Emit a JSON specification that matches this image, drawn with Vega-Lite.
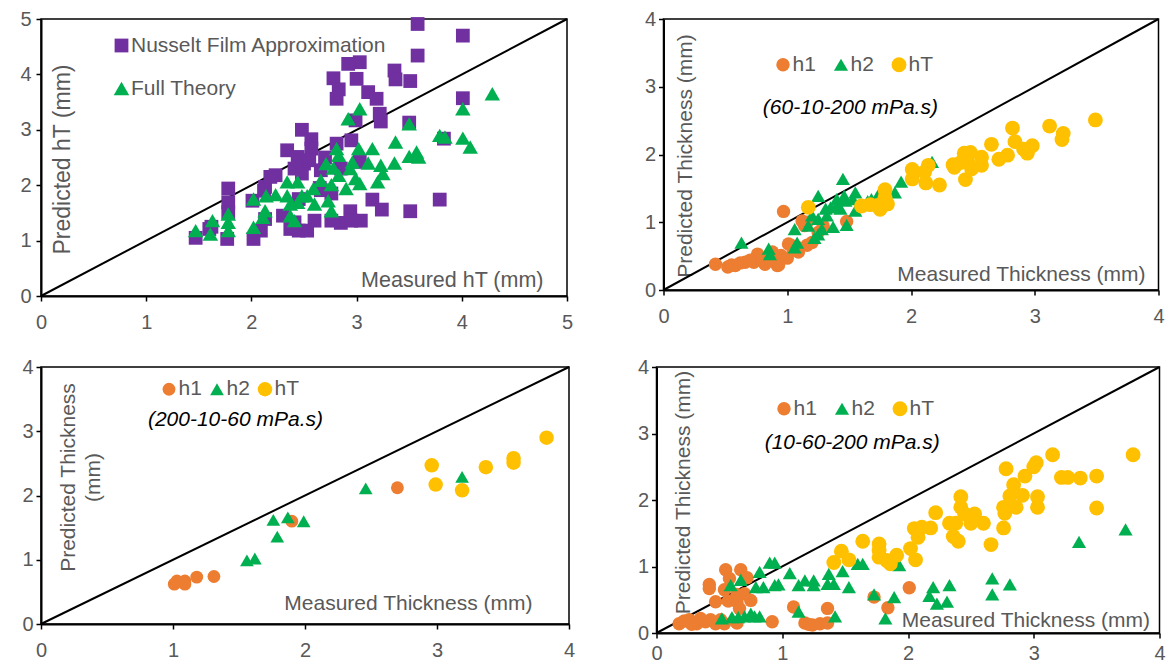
{
  "$schema": "https://vega.github.io/schema/vega-lite/v6.json",
  "padding": {"left": 19, "top": 8, "right": 0, "bottom": 0},
  "background": "white",
  "config": {
    "font": "Liberation Sans",
    "view": {"stroke": "#000000", "strokeWidth": 1.5},
    "axis": {
      "grid": false, "domainColor": "#000000", "domainWidth": 2, "tickColor": "#000000", "tickWidth": 1.5, "tickSize": 5,
      "labelColor": "#595959", "labelFontSize": 20, "labelFont": "Liberation Sans", "labelFlush": false, "labelOverlap": false,
      "titleColor": "#595959", "titleFontSize": 21, "titleFont": "Liberation Sans", "titleFontWeight": "normal", "labelPadding": 3
    },
    "axisX": {"labelPadding": 11},
    "legend": {"labelColor": "#595959", "labelFontSize": 21, "labelFont": "Liberation Sans", "padding": 0, "labelOffset": -1, "symbolStrokeWidth": 0, "symbolOpacity": 1, "labelLimit": 500}
  },
  "datasets": {
    "tl": [
      {"m":3.58,"p":4.91,"s":"Nusselt Film Approximation"},{"m":4.01,"p":4.70,"s":"Nusselt Film Approximation"},{"m":3.58,"p":4.34,"s":"Nusselt Film Approximation"},{"m":3.03,"p":4.22,"s":"Nusselt Film Approximation"},{"m":2.92,"p":4.19,"s":"Nusselt Film Approximation"},{"m":3.0,"p":3.92,"s":"Nusselt Film Approximation"},{"m":2.78,"p":3.93,"s":"Nusselt Film Approximation"},{"m":3.36,"p":4.07,"s":"Nusselt Film Approximation"},{"m":3.37,"p":3.91,"s":"Nusselt Film Approximation"},{"m":3.51,"p":3.88,"s":"Nusselt Film Approximation"},{"m":2.83,"p":3.73,"s":"Nusselt Film Approximation"},{"m":2.81,"p":3.56,"s":"Nusselt Film Approximation"},{"m":3.11,"p":3.68,"s":"Nusselt Film Approximation"},{"m":3.19,"p":3.56,"s":"Nusselt Film Approximation"},{"m":4.01,"p":3.57,"s":"Nusselt Film Approximation"},{"m":3.22,"p":3.29,"s":"Nusselt Film Approximation"},{"m":3.23,"p":3.15,"s":"Nusselt Film Approximation"},{"m":2.99,"p":3.17,"s":"Nusselt Film Approximation"},{"m":3.50,"p":3.13,"s":"Nusselt Film Approximation"},{"m":2.48,"p":3.0,"s":"Nusselt Film Approximation"},{"m":2.57,"p":2.83,"s":"Nusselt Film Approximation"},{"m":2.57,"p":2.66,"s":"Nusselt Film Approximation"},{"m":2.34,"p":2.63,"s":"Nusselt Film Approximation"},{"m":2.81,"p":2.75,"s":"Nusselt Film Approximation"},{"m":2.95,"p":2.81,"s":"Nusselt Film Approximation"},{"m":3.83,"p":2.84,"s":"Nusselt Film Approximation"},{"m":2.44,"p":2.51,"s":"Nusselt Film Approximation"},{"m":2.50,"p":2.39,"s":"Nusselt Film Approximation"},{"m":3.03,"p":2.42,"s":"Nusselt Film Approximation"},{"m":2.41,"p":2.30,"s":"Nusselt Film Approximation"},{"m":2.48,"p":2.21,"s":"Nusselt Film Approximation"},{"m":2.23,"p":2.18,"s":"Nusselt Film Approximation"},{"m":2.66,"p":2.27,"s":"Nusselt Film Approximation"},{"m":2.13,"p":1.97,"s":"Nusselt Film Approximation"},{"m":1.78,"p":1.94,"s":"Nusselt Film Approximation"},{"m":1.78,"p":1.69,"s":"Nusselt Film Approximation"},{"m":1.78,"p":1.51,"s":"Nusselt Film Approximation"},{"m":2.01,"p":1.72,"s":"Nusselt Film Approximation"},{"m":2.66,"p":1.91,"s":"Nusselt Film Approximation"},{"m":2.76,"p":1.85,"s":"Nusselt Film Approximation"},{"m":3.15,"p":1.74,"s":"Nusselt Film Approximation"},{"m":3.79,"p":1.74,"s":"Nusselt Film Approximation"},{"m":3.24,"p":1.56,"s":"Nusselt Film Approximation"},{"m":3.51,"p":1.53,"s":"Nusselt Film Approximation"},{"m":2.94,"p":1.53,"s":"Nusselt Film Approximation"},{"m":2.60,"p":1.36,"s":"Nusselt Film Approximation"},{"m":2.76,"p":1.36,"s":"Nusselt Film Approximation"},{"m":2.85,"p":1.32,"s":"Nusselt Film Approximation"},{"m":2.95,"p":1.36,"s":"Nusselt Film Approximation"},{"m":3.04,"p":1.36,"s":"Nusselt Film Approximation"},{"m":2.13,"p":1.39,"s":"Nusselt Film Approximation"},{"m":2.09,"p":1.18,"s":"Nusselt Film Approximation"},{"m":2.37,"p":1.21,"s":"Nusselt Film Approximation"},{"m":2.45,"p":1.18,"s":"Nusselt Film Approximation"},{"m":2.53,"p":1.18,"s":"Nusselt Film Approximation"},{"m":2.41,"p":1.33,"s":"Nusselt Film Approximation"},{"m":2.02,"p":1.03,"s":"Nusselt Film Approximation"},{"m":1.47,"p":1.05,"s":"Nusselt Film Approximation"},{"m":1.60,"p":1.21,"s":"Nusselt Film Approximation"},{"m":1.77,"p":1.03,"s":"Nusselt Film Approximation"},{"m":2.55,"p":2.45,"s":"Nusselt Film Approximation"},{"m":2.70,"p":2.50,"s":"Nusselt Film Approximation"},{"m":2.65,"p":1.95,"s":"Nusselt Film Approximation"},{"m":2.45,"p":1.75,"s":"Nusselt Film Approximation"},{"m":2.30,"p":1.45,"s":"Nusselt Film Approximation"},{"m":2.85,"p":2.30,"s":"Nusselt Film Approximation"},{"m":2.18,"p":2.15,"s":"Nusselt Film Approximation"},{"m":1.62,"p":1.25,"s":"Nusselt Film Approximation"},{"m":2.12,"p":1.90,"s":"Nusselt Film Approximation"},
      {"m":4.29,"p":3.65,"s":"Full Theory"},{"m":4.01,"p":3.38,"s":"Full Theory"},{"m":3.03,"p":3.38,"s":"Full Theory"},{"m":2.92,"p":3.20,"s":"Full Theory"},{"m":3.50,"p":3.11,"s":"Full Theory"},{"m":3.79,"p":2.90,"s":"Full Theory"},{"m":3.84,"p":2.87,"s":"Full Theory"},{"m":4.01,"p":2.85,"s":"Full Theory"},{"m":4.08,"p":2.69,"s":"Full Theory"},{"m":3.37,"p":2.78,"s":"Full Theory"},{"m":3.15,"p":2.66,"s":"Full Theory"},{"m":3.02,"p":2.66,"s":"Full Theory"},{"m":2.81,"p":2.66,"s":"Full Theory"},{"m":3.57,"p":2.60,"s":"Full Theory"},{"m":3.50,"p":2.52,"s":"Full Theory"},{"m":3.59,"p":2.51,"s":"Full Theory"},{"m":3.36,"p":2.40,"s":"Full Theory"},{"m":3.11,"p":2.40,"s":"Full Theory"},{"m":3.23,"p":2.36,"s":"Full Theory"},{"m":3.25,"p":2.21,"s":"Full Theory"},{"m":3.20,"p":2.06,"s":"Full Theory"},{"m":2.96,"p":2.42,"s":"Full Theory"},{"m":2.83,"p":2.54,"s":"Full Theory"},{"m":2.71,"p":2.39,"s":"Full Theory"},{"m":2.78,"p":2.31,"s":"Full Theory"},{"m":2.83,"p":2.18,"s":"Full Theory"},{"m":2.94,"p":2.30,"s":"Full Theory"},{"m":2.99,"p":2.12,"s":"Full Theory"},{"m":3.03,"p":2.03,"s":"Full Theory"},{"m":2.90,"p":1.94,"s":"Full Theory"},{"m":2.76,"p":2.01,"s":"Full Theory"},{"m":2.66,"p":2.09,"s":"Full Theory"},{"m":2.59,"p":1.94,"s":"Full Theory"},{"m":2.53,"p":1.81,"s":"Full Theory"},{"m":2.60,"p":1.66,"s":"Full Theory"},{"m":2.44,"p":2.06,"s":"Full Theory"},{"m":2.34,"p":2.06,"s":"Full Theory"},{"m":2.34,"p":1.81,"s":"Full Theory"},{"m":2.37,"p":1.66,"s":"Full Theory"},{"m":2.44,"p":1.69,"s":"Full Theory"},{"m":2.48,"p":1.81,"s":"Full Theory"},{"m":2.23,"p":1.83,"s":"Full Theory"},{"m":2.14,"p":1.81,"s":"Full Theory"},{"m":2.02,"p":1.75,"s":"Full Theory"},{"m":2.13,"p":1.54,"s":"Full Theory"},{"m":2.11,"p":1.42,"s":"Full Theory"},{"m":2.02,"p":1.24,"s":"Full Theory"},{"m":2.37,"p":1.45,"s":"Full Theory"},{"m":2.41,"p":1.36,"s":"Full Theory"},{"m":2.76,"p":1.54,"s":"Full Theory"},{"m":1.78,"p":1.48,"s":"Full Theory"},{"m":1.78,"p":1.33,"s":"Full Theory"},{"m":1.78,"p":1.18,"s":"Full Theory"},{"m":1.63,"p":1.36,"s":"Full Theory"},{"m":1.61,"p":1.12,"s":"Full Theory"},{"m":1.47,"p":1.18,"s":"Full Theory"},{"m":2.73,"p":1.72,"s":"Full Theory"}
    ],
    "tr": [
      {"m":0.97,"p":1.16,"s":"h1"},{"m":1.12,"p":1.02,"s":"h1"},{"m":1.14,"p":0.95,"s":"h1"},{"m":1.48,"p":1.01,"s":"h1"},{"m":1.29,"p":0.95,"s":"h1"},{"m":1.01,"p":0.68,"s":"h1"},{"m":1.08,"p":0.63,"s":"h1"},{"m":1.09,"p":0.56,"s":"h1"},{"m":1.16,"p":0.66,"s":"h1"},{"m":0.95,"p":0.51,"s":"h1"},{"m":0.92,"p":0.36,"s":"h1"},{"m":0.76,"p":0.53,"s":"h1"},{"m":0.73,"p":0.41,"s":"h1"},{"m":0.66,"p":0.41,"s":"h1"},{"m":0.58,"p":0.36,"s":"h1"},{"m":0.52,"p":0.34,"s":"h1"},{"m":0.42,"p":0.38,"s":"h1"},{"m":0.82,"p":0.38,"s":"h1"},{"m":0.88,"p":0.56,"s":"h1"},{"m":1.16,"p":1.0,"s":"h1"},{"m":1.03,"p":0.66,"s":"h1"},{"m":1.05,"p":0.59,"s":"h1"},{"m":1.0,"p":0.47,"s":"h1"},{"m":0.93,"p":0.37,"s":"h1"},{"m":0.77,"p":0.49,"s":"h1"},{"m":0.62,"p":0.40,"s":"h1"},{"m":0.55,"p":0.37,"s":"h1"},{"m":0.70,"p":0.44,"s":"h1"},{"m":0.86,"p":0.45,"s":"h1"},{"m":1.20,"p":0.70,"s":"h1"},{"m":1.25,"p":0.85,"s":"h1"},
      {"m":2.17,"p":1.89,"s":"h2"},{"m":1.92,"p":1.60,"s":"h2"},{"m":1.87,"p":1.44,"s":"h2"},{"m":1.73,"p":1.39,"s":"h2"},{"m":1.65,"p":1.31,"s":"h2"},{"m":1.55,"p":1.44,"s":"h2"},{"m":1.53,"p":1.34,"s":"h2"},{"m":1.55,"p":1.17,"s":"h2"},{"m":1.45,"p":1.64,"s":"h2"},{"m":1.25,"p":1.39,"s":"h2"},{"m":1.40,"p":1.34,"s":"h2"},{"m":1.35,"p":1.22,"s":"h2"},{"m":1.43,"p":1.20,"s":"h2"},{"m":1.31,"p":1.20,"s":"h2"},{"m":1.17,"p":0.95,"s":"h2"},{"m":1.06,"p":0.90,"s":"h2"},{"m":1.25,"p":1.05,"s":"h2"},{"m":1.28,"p":0.90,"s":"h2"},{"m":1.37,"p":0.93,"s":"h2"},{"m":1.48,"p":0.96,"s":"h2"},{"m":1.06,"p":0.63,"s":"h2"},{"m":1.08,"p":0.70,"s":"h2"},{"m":1.22,"p":0.77,"s":"h2"},{"m":1.25,"p":0.82,"s":"h2"},{"m":0.85,"p":0.61,"s":"h2"},{"m":0.86,"p":0.53,"s":"h2"},{"m":0.63,"p":0.70,"s":"h2"},{"m":1.46,"p":1.39,"s":"h2"},{"m":1.40,"p":1.25,"s":"h2"},{"m":1.20,"p":1.10,"s":"h2"},{"m":1.32,"p":1.10,"s":"h2"},{"m":1.68,"p":1.34,"s":"h2"},{"m":1.47,"p":1.32,"s":"h2"},
      {"m":3.49,"p":2.51,"s":"hT"},{"m":3.12,"p":2.42,"s":"hT"},{"m":3.23,"p":2.31,"s":"hT"},{"m":3.22,"p":2.22,"s":"hT"},{"m":2.82,"p":2.39,"s":"hT"},{"m":2.84,"p":2.19,"s":"hT"},{"m":2.91,"p":2.08,"s":"hT"},{"m":2.94,"p":2.02,"s":"hT"},{"m":2.98,"p":2.13,"s":"hT"},{"m":2.65,"p":2.15,"s":"hT"},{"m":2.78,"p":1.99,"s":"hT"},{"m":2.71,"p":1.93,"s":"hT"},{"m":2.57,"p":1.96,"s":"hT"},{"m":2.57,"p":1.84,"s":"hT"},{"m":2.43,"p":2.02,"s":"hT"},{"m":2.48,"p":2.03,"s":"hT"},{"m":2.46,"p":1.88,"s":"hT"},{"m":2.49,"p":1.79,"s":"hT"},{"m":2.34,"p":1.85,"s":"hT"},{"m":2.40,"p":1.88,"s":"hT"},{"m":2.35,"p":1.81,"s":"hT"},{"m":2.44,"p":1.63,"s":"hT"},{"m":2.23,"p":1.55,"s":"hT"},{"m":2.14,"p":1.84,"s":"hT"},{"m":2.11,"p":1.74,"s":"hT"},{"m":2.12,"p":1.58,"s":"hT"},{"m":2.01,"p":1.78,"s":"hT"},{"m":2.01,"p":1.64,"s":"hT"},{"m":1.79,"p":1.48,"s":"hT"},{"m":1.79,"p":1.37,"s":"hT"},{"m":1.81,"p":1.27,"s":"hT"},{"m":1.73,"p":1.25,"s":"hT"},{"m":1.67,"p":1.26,"s":"hT"},{"m":1.60,"p":1.24,"s":"hT"},{"m":1.75,"p":1.19,"s":"hT"},{"m":1.17,"p":1.22,"s":"hT"}
    ],
    "bl": [
      {"m":1.01,"p":0.62,"s":"h1"},{"m":1.03,"p":0.67,"s":"h1"},{"m":1.09,"p":0.67,"s":"h1"},{"m":1.09,"p":0.62,"s":"h1"},{"m":1.18,"p":0.73,"s":"h1"},{"m":1.31,"p":0.74,"s":"h1"},{"m":1.90,"p":1.60,"s":"h1"},{"m":2.70,"p":2.12,"s":"h1"},
      {"m":1.56,"p":0.99,"s":"h2"},{"m":1.62,"p":1.02,"s":"h2"},{"m":1.79,"p":1.36,"s":"h2"},{"m":1.76,"p":1.62,"s":"h2"},{"m":1.87,"p":1.66,"s":"h2"},{"m":1.99,"p":1.60,"s":"h2"},{"m":2.46,"p":2.11,"s":"h2"},{"m":3.19,"p":2.29,"s":"h2"},
      {"m":2.96,"p":2.47,"s":"hT"},{"m":2.99,"p":2.17,"s":"hT"},{"m":3.19,"p":2.08,"s":"hT"},{"m":3.37,"p":2.44,"s":"hT"},{"m":3.58,"p":2.58,"s":"hT"},{"m":3.58,"p":2.51,"s":"hT"},{"m":3.83,"p":2.90,"s":"hT"}
    ],
    "br": [
      {"m":2.01,"p":0.68,"s":"h1"},{"m":1.84,"p":0.38,"s":"h1"},{"m":1.73,"p":0.54,"s":"h1"},{"m":1.09,"p":0.39,"s":"h1"},{"m":1.36,"p":0.37,"s":"h1"},{"m":0.92,"p":0.17,"s":"h1"},{"m":1.18,"p":0.15,"s":"h1"},{"m":1.24,"p":0.12,"s":"h1"},{"m":1.30,"p":0.14,"s":"h1"},{"m":1.36,"p":0.15,"s":"h1"},{"m":1.21,"p":0.13,"s":"h1"},{"m":0.55,"p":0.95,"s":"h1"},{"m":0.67,"p":0.95,"s":"h1"},{"m":0.42,"p":0.73,"s":"h1"},{"m":0.42,"p":0.67,"s":"h1"},{"m":0.58,"p":0.82,"s":"h1"},{"m":0.72,"p":0.83,"s":"h1"},{"m":0.54,"p":0.65,"s":"h1"},{"m":0.47,"p":0.47,"s":"h1"},{"m":0.57,"p":0.48,"s":"h1"},{"m":0.64,"p":0.47,"s":"h1"},{"m":0.75,"p":0.49,"s":"h1"},{"m":0.70,"p":0.59,"s":"h1"},{"m":0.64,"p":0.58,"s":"h1"},{"m":0.66,"p":0.37,"s":"h1"},{"m":0.64,"p":0.15,"s":"h1"},{"m":0.18,"p":0.14,"s":"h1"},{"m":0.22,"p":0.18,"s":"h1"},{"m":0.26,"p":0.20,"s":"h1"},{"m":0.32,"p":0.14,"s":"h1"},{"m":0.35,"p":0.22,"s":"h1"},{"m":0.39,"p":0.17,"s":"h1"},{"m":0.47,"p":0.14,"s":"h1"},{"m":0.54,"p":0.14,"s":"h1"},{"m":0.28,"p":0.13,"s":"h1"},{"m":0.51,"p":0.20,"s":"h1"},{"m":0.43,"p":0.20,"s":"h1"},
      {"m":3.73,"p":1.56,"s":"h2"},{"m":3.36,"p":1.37,"s":"h2"},{"m":2.67,"p":0.82,"s":"h2"},{"m":2.67,"p":0.58,"s":"h2"},{"m":2.81,"p":0.73,"s":"h2"},{"m":2.33,"p":0.72,"s":"h2"},{"m":2.20,"p":0.69,"s":"h2"},{"m":2.17,"p":0.56,"s":"h2"},{"m":2.23,"p":0.44,"s":"h2"},{"m":2.31,"p":0.47,"s":"h2"},{"m":1.89,"p":0.54,"s":"h2"},{"m":1.73,"p":0.58,"s":"h2"},{"m":1.82,"p":0.22,"s":"h2"},{"m":1.93,"p":1.02,"s":"h2"},{"m":1.60,"p":1.04,"s":"h2"},{"m":1.64,"p":1.04,"s":"h2"},{"m":1.48,"p":0.93,"s":"h2"},{"m":1.53,"p":0.69,"s":"h2"},{"m":1.37,"p":0.89,"s":"h2"},{"m":1.36,"p":0.74,"s":"h2"},{"m":1.41,"p":0.74,"s":"h2"},{"m":1.25,"p":0.79,"s":"h2"},{"m":1.25,"p":0.72,"s":"h2"},{"m":1.18,"p":0.79,"s":"h2"},{"m":1.13,"p":0.72,"s":"h2"},{"m":1.06,"p":0.90,"s":"h2"},{"m":0.97,"p":0.73,"s":"h2"},{"m":0.94,"p":0.72,"s":"h2"},{"m":0.90,"p":1.06,"s":"h2"},{"m":0.94,"p":1.06,"s":"h2"},{"m":0.82,"p":0.92,"s":"h2"},{"m":0.85,"p":0.69,"s":"h2"},{"m":0.79,"p":0.69,"s":"h2"},{"m":1.13,"p":0.32,"s":"h2"},{"m":1.42,"p":0.25,"s":"h2"},{"m":0.67,"p":0.80,"s":"h2"},{"m":0.59,"p":0.72,"s":"h2"},{"m":0.52,"p":0.22,"s":"h2"},{"m":0.60,"p":0.24,"s":"h2"},{"m":0.65,"p":0.24,"s":"h2"},{"m":0.70,"p":0.25,"s":"h2"},{"m":0.75,"p":0.29,"s":"h2"},{"m":0.78,"p":0.25,"s":"h2"},{"m":0.82,"p":0.25,"s":"h2"},
      {"m":3.79,"p":2.68,"s":"hT"},{"m":3.15,"p":2.68,"s":"hT"},{"m":3.02,"p":2.56,"s":"hT"},{"m":3.0,"p":2.50,"s":"hT"},{"m":2.78,"p":2.47,"s":"hT"},{"m":2.93,"p":2.36,"s":"hT"},{"m":2.84,"p":2.23,"s":"hT"},{"m":3.22,"p":2.34,"s":"hT"},{"m":3.27,"p":2.34,"s":"hT"},{"m":3.37,"p":2.33,"s":"hT"},{"m":3.50,"p":2.36,"s":"hT"},{"m":3.50,"p":1.88,"s":"hT"},{"m":3.03,"p":2.05,"s":"hT"},{"m":3.03,"p":1.89,"s":"hT"},{"m":2.81,"p":2.06,"s":"hT"},{"m":2.91,"p":2.07,"s":"hT"},{"m":2.86,"p":1.89,"s":"hT"},{"m":2.76,"p":1.89,"s":"hT"},{"m":2.77,"p":1.80,"s":"hT"},{"m":2.76,"p":1.58,"s":"hT"},{"m":2.42,"p":2.05,"s":"hT"},{"m":2.42,"p":1.89,"s":"hT"},{"m":2.53,"p":1.79,"s":"hT"},{"m":2.50,"p":1.65,"s":"hT"},{"m":2.45,"p":1.79,"s":"hT"},{"m":2.60,"p":1.65,"s":"hT"},{"m":2.66,"p":1.33,"s":"hT"},{"m":2.33,"p":1.65,"s":"hT"},{"m":2.38,"p":1.65,"s":"hT"},{"m":2.36,"p":1.45,"s":"hT"},{"m":2.40,"p":1.38,"s":"hT"},{"m":2.22,"p":1.81,"s":"hT"},{"m":2.18,"p":1.58,"s":"hT"},{"m":2.05,"p":1.57,"s":"hT"},{"m":2.11,"p":1.59,"s":"hT"},{"m":2.08,"p":1.44,"s":"hT"},{"m":2.02,"p":1.27,"s":"hT"},{"m":2.06,"p":1.10,"s":"hT"},{"m":1.64,"p":1.38,"s":"hT"},{"m":1.77,"p":1.34,"s":"hT"},{"m":1.77,"p":1.24,"s":"hT"},{"m":1.77,"p":1.14,"s":"hT"},{"m":1.83,"p":1.09,"s":"hT"},{"m":1.86,"p":1.04,"s":"hT"},{"m":1.91,"p":1.17,"s":"hT"},{"m":1.47,"p":1.23,"s":"hT"},{"m":1.53,"p":1.10,"s":"hT"},{"m":1.41,"p":1.06,"s":"hT"}
    ]
  },
  "vconcat": [
    {
      "hconcat": [
        {
          "width": 526, "height": 277,
          "encoding": {
            "x": {"field": "m", "type": "quantitative", "scale": {"domain": [0, 5], "nice": false},
              "axis": {"values": [0,1,2,3,4,5], "title": "Measured hT (mm)", "titleX": 502, "titleY": -16, "titleAlign": "right", "titleBaseline": "middle", "titleAnchor": null, "titleFontSize": 21.5}},
            "y": {"field": "p", "type": "quantitative", "scale": {"domain": [0, 5], "nice": false},
              "axis": {"values": [0,1,2,3,4,5], "title": "Predicted hT (mm)", "titleX": 21.5, "titleY": 140, "titleAngle": 270, "titleAlign": "center", "titleBaseline": "middle", "titleFontSize": 23, "labelPadding": 5}}
          },
          "layer": [
            {"data": {"values": [{"m": 0, "p": 0}, {"m": 5, "p": 5}]}, "mark": {"type": "line", "color": "#000000", "strokeWidth": 2}},
            {"data": {"name": "tl"}, "mark": {"type": "point", "filled": true, "opacity": 1, "strokeWidth": 0},
              "encoding": {
                "color": {"field": "s", "type": "nominal", "scale": {"domain": ["Nusselt Film Approximation", "Full Theory"], "range": ["#7030A0", "#00B050"]},
                  "legend": {"title": null, "orient": "none", "legendX": 70, "legendY": 16, "direction": "vertical", "rowPadding": 21}},
                "shape": {"field": "s", "type": "nominal", "scale": {"domain": ["Nusselt Film Approximation", "Full Theory"], "range": ["square", "triangle-up"]}},
                "size": {"field": "s", "type": "nominal", "scale": {"domain": ["Nusselt Film Approximation", "Full Theory"], "range": [190, 240]}}
              }}
          ]
        },
        {
          "width": 495, "height": 271,
          "encoding": {
            "x": {"field": "m", "type": "quantitative", "scale": {"domain": [0, 4], "nice": false},
              "axis": {"values": [0,1,2,3,4], "title": "Measured Thickness (mm)", "titleX": 481.5, "titleY": -16, "titleAlign": "right", "titleBaseline": "middle", "titleAnchor": null}},
            "y": {"field": "p", "type": "quantitative", "scale": {"domain": [0, 4], "nice": false},
              "axis": {"values": [0,1,2,3,4], "title": "Predicted Thickness (mm)", "titleX": 22, "titleY": 136.5, "titleAngle": 270, "titleAlign": "center", "titleBaseline": "middle"}}
          },
          "layer": [
            {"data": {"values": [{"m": 0, "p": 0}, {"m": 4, "p": 4}]}, "mark": {"type": "line", "color": "#000000", "strokeWidth": 2}},
            {"data": {"name": "tr"}, "mark": {"type": "point", "filled": true, "opacity": 1, "strokeWidth": 0},
              "encoding": {
                "color": {"field": "s", "type": "nominal", "scale": {"domain": ["h1", "h2", "hT"], "range": ["#ED7D31", "#00B050", "#FFC000"]},
                  "legend": {"title": null, "orient": "none", "legendX": 109, "legendY": 35, "direction": "horizontal", "columnPadding": 14}},
                "shape": {"field": "s", "type": "nominal", "scale": {"domain": ["h1", "h2", "hT"], "range": ["circle", "triangle-up", "circle"]}},
                "size": {"field": "s", "type": "nominal", "scale": {"domain": ["h1", "h2", "hT"], "range": [180, 220, 180]}}
              }},
            {"data": {"values": [{"m": 1.51, "p": 2.686, "note": "(60-10-200 mPa.s)"}]}, "mark": {"type": "text", "fontStyle": "italic", "fontSize": 21, "color": "#000000", "align": "center", "baseline": "middle"},
              "encoding": {"text": {"field": "note"}}}
          ]
        }
      ],
      "spacing": 96.5,
      "bounds": "flush",
      "resolve": {"scale": {"color": "independent", "shape": "independent", "size": "independent"}, "legend": {"color": "independent", "shape": "independent", "size": "independent"}}
    },
    {
      "hconcat": [
        {
          "width": 528, "height": 257,
          "encoding": {
            "x": {"field": "m", "type": "quantitative", "scale": {"domain": [0, 4], "nice": false},
              "axis": {"values": [0,1,2,3,4], "title": "Measured Thickness (mm)", "titleX": 491, "titleY": -21, "titleAlign": "right", "titleBaseline": "middle", "titleAnchor": null}},
            "y": {"field": "p", "type": "quantitative", "scale": {"domain": [0, 4], "nice": false},
              "axis": {"values": [0,1,2,3,4], "title": ["Predicted Thickness", "(mm)"], "titleX": 27, "titleY": 110, "titleAngle": 270, "titleAlign": "center", "titleBaseline": "middle", "titleLineHeight": 25}}
          },
          "layer": [
            {"data": {"values": [{"m": 0, "p": 0}, {"m": 4, "p": 4}]}, "mark": {"type": "line", "color": "#000000", "strokeWidth": 2}},
            {"data": {"name": "bl"}, "mark": {"type": "point", "filled": true, "opacity": 1, "strokeWidth": 0},
              "encoding": {
                "color": {"field": "s", "type": "nominal", "scale": {"domain": ["h1", "h2", "hT"], "range": ["#ED7D31", "#00B050", "#FFC000"]},
                  "legend": {"title": null, "orient": "none", "legendX": 117.5, "legendY": 11.5, "direction": "horizontal", "columnPadding": 4}},
                "shape": {"field": "s", "type": "nominal", "scale": {"domain": ["h1", "h2", "hT"], "range": ["circle", "triangle-up", "circle"]}},
                "size": {"field": "s", "type": "nominal", "scale": {"domain": ["h1", "h2", "hT"], "range": [165, 210, 165]}}
              }},
            {"data": {"values": [{"m": 1.473, "p": 3.17, "note": "(200-10-60 mPa.s)"}]}, "mark": {"type": "text", "fontStyle": "italic", "fontSize": 21, "color": "#000000", "align": "center", "baseline": "middle"},
              "encoding": {"text": {"field": "note"}}}
          ]
        },
        {
          "width": 503, "height": 266,
          "encoding": {
            "x": {"field": "m", "type": "quantitative", "scale": {"domain": [0, 4], "nice": false},
              "axis": {"values": [0,1,2,3,4], "title": "Measured Thickness (mm)", "titleX": 493, "titleY": -13, "titleAlign": "right", "titleBaseline": "middle", "titleAnchor": null, "labelPadding": 5}},
            "y": {"field": "p", "type": "quantitative", "scale": {"domain": [0, 4], "nice": false},
              "axis": {"values": [0,1,2,3,4], "title": "Predicted Thickness (mm)", "titleX": 27, "titleY": 125, "titleAngle": 270, "titleAlign": "center", "titleBaseline": "middle"}}
          },
          "layer": [
            {"data": {"values": [{"m": 0, "p": 0}, {"m": 4, "p": 4}]}, "mark": {"type": "line", "color": "#000000", "strokeWidth": 2}},
            {"data": {"name": "br"}, "mark": {"type": "point", "filled": true, "opacity": 1, "strokeWidth": 0},
              "encoding": {
                "color": {"field": "s", "type": "nominal", "scale": {"domain": ["h1", "h2", "hT"], "range": ["#ED7D31", "#00B050", "#FFC000"]},
                  "legend": {"title": null, "orient": "none", "legendX": 117, "legendY": 31, "direction": "horizontal", "columnPadding": 14}},
                "shape": {"field": "s", "type": "nominal", "scale": {"domain": ["h1", "h2", "hT"], "range": ["circle", "triangle-up", "circle"]}},
                "size": {"field": "s", "type": "nominal", "scale": {"domain": ["h1", "h2", "hT"], "range": [180, 220, 180]}}
              }},
            {"data": {"values": [{"m": 1.556, "p": 2.85, "note": "(10-60-200 mPa.s)"}]}, "mark": {"type": "text", "fontStyle": "italic", "fontSize": 21, "color": "#000000", "align": "center", "baseline": "middle"},
              "encoding": {"text": {"field": "note"}}}
          ]
        }
      ],
      "spacing": 87.5,
      "bounds": "flush",
      "resolve": {"scale": {"color": "independent", "shape": "independent", "size": "independent"}, "legend": {"color": "independent", "shape": "independent", "size": "independent"}}
    }
  ],
  "spacing": 23,
  "resolve": {"scale": {"color": "independent", "shape": "independent", "size": "independent"}, "legend": {"color": "independent", "shape": "independent", "size": "independent"}}
}
